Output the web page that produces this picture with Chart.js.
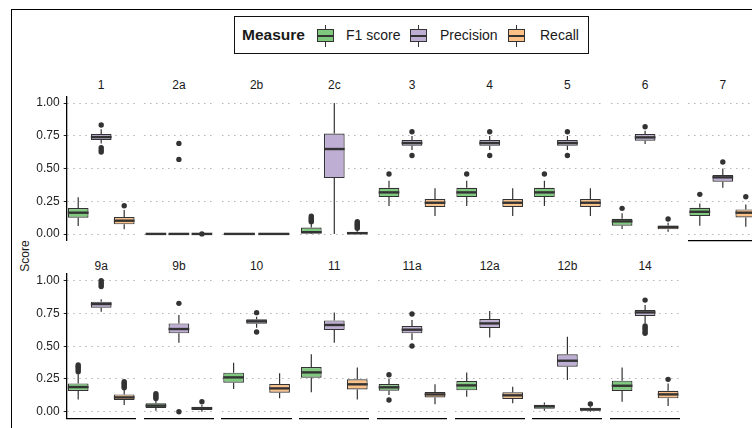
<!DOCTYPE html>
<html>
<head>
<meta charset="utf-8">
<script src="https://cdn.jsdelivr.net/npm/chart.js@4.4.1/dist/chart.umd.min.js"></script>
<style>
  html, body { margin: 0; padding: 0; background: #fff; }
  body { width: 752px; height: 428px; position: relative; overflow: hidden;
         font-family: "Liberation Sans", Arial, sans-serif; color: #1a1a1a; }
  .frame { position: absolute; left: 11px; top: 9px; width: 1200px; height: 1200px;
           border-left: 1.5px solid #000; border-top: 1.5px solid #000; }
  .legend { position: absolute; left: 234px; top: 16px; width: 355px; height: 38px;
            border: 1px solid #111; box-sizing: border-box; }
  .legend-title { position: absolute; left: 242px; top: 26px; font-weight: bold; font-size: 15.5px; line-height: 18px; }
  .legend-text { position: absolute; top: 27px; font-size: 14px; line-height: 17px; }
  .key { position: absolute; top: 25px; width: 17px; height: 22px; }
  .key .whisker { position: absolute; left: 8px; top: 0; width: 1.2px; height: 22px; background: #333; }
  .key .box { position: absolute; left: 0; top: 4px; width: 17px; height: 13px; box-sizing: border-box;
              border: 1.2px solid #333; }
  .key .median { position: absolute; left: 0; top: 10px; width: 17px; height: 2px; background: #333; }
  .strip { position: absolute; width: 69px; text-align: center; font-size: 12px; line-height: 14px; }
  .ylab { position: absolute; left: 25px; top: 256px; font-size: 12px; line-height: 14px;
          transform: translate(-50%, -50%) rotate(-90deg); white-space: nowrap; }
  canvas { position: absolute; }
</style>
</head>
<body>
<div class="frame"></div>
<div class="legend"></div>
<div class="ylab">Score</div>
<div id="host"></div>
<script>
// Facet panels, in reading order (9 per row)
const panels = ['1','2a','2b','2c','3','4','5','6','7','9a','9b','10','11','11a','12a','12b','14'];
const measures = ['F1 score', 'Precision', 'Recall'];
const measureColors = ['#7FC97F', '#BEAED4', '#FDC086'];

// Box statistics per panel: [lower whisker, Q1, median, Q3, upper whisker]
const f1Stats = [
  [0.061, 0.125, 0.163, 0.198, 0.280],
  [0.000, 0.000, 0.001, 0.004, 0.006],
  [0.000, 0.000, 0.001, 0.003, 0.005],
  [0.000, 0.005, 0.014, 0.050, 0.085],
  [0.214, 0.282, 0.318, 0.354, 0.407],
  [0.214, 0.282, 0.318, 0.354, 0.407],
  [0.214, 0.282, 0.318, 0.354, 0.407],
  [0.038, 0.064, 0.097, 0.117, 0.158],
  [0.064, 0.137, 0.170, 0.201, 0.234],
  [0.094, 0.158, 0.188, 0.216, 0.285],
  [0.008, 0.028, 0.046, 0.064, 0.085],
  [0.173, 0.221, 0.262, 0.298, 0.374],
  [0.148, 0.260, 0.300, 0.341, 0.438],
  [0.127, 0.160, 0.186, 0.211, 0.254],
  [0.115, 0.163, 0.201, 0.234, 0.300],
  [0.008, 0.023, 0.041, 0.053, 0.071],
  [0.076, 0.158, 0.198, 0.237, 0.338]
];
const precisionStats = [
  [0.692, 0.718, 0.740, 0.763, 0.800],
  [0.000, 0.000, 0.001, 0.003, 0.005],
  [0.000, 0.000, 0.001, 0.003, 0.005],
  [0.000, 0.427, 0.649, 0.768, 1.000],
  [0.641, 0.674, 0.695, 0.718, 0.748],
  [0.641, 0.674, 0.695, 0.718, 0.748],
  [0.641, 0.674, 0.695, 0.718, 0.748],
  [0.687, 0.712, 0.738, 0.763, 0.789],
  [0.354, 0.400, 0.433, 0.450, 0.501],
  [0.763, 0.794, 0.822, 0.840, 0.858],
  [0.527, 0.598, 0.631, 0.674, 0.738],
  [0.641, 0.672, 0.690, 0.705, 0.725],
  [0.527, 0.623, 0.662, 0.697, 0.758],
  [0.547, 0.598, 0.626, 0.654, 0.700],
  [0.567, 0.639, 0.674, 0.707, 0.768],
  [0.242, 0.344, 0.389, 0.438, 0.573],
  [0.674, 0.730, 0.758, 0.776, 0.814]
];
const recallStats = [
  [0.036, 0.074, 0.102, 0.130, 0.183],
  [0.000, 0.000, 0.001, 0.003, 0.005],
  null,
  [0.000, 0.000, 0.006, 0.018, 0.035],
  [0.137, 0.206, 0.239, 0.267, 0.349],
  [0.137, 0.206, 0.239, 0.267, 0.349],
  [0.137, 0.206, 0.239, 0.267, 0.349],
  [0.018, 0.036, 0.053, 0.066, 0.087],
  [0.056, 0.127, 0.163, 0.188, 0.226],
  [0.051, 0.089, 0.109, 0.132, 0.165],
  [0.000, 0.013, 0.025, 0.038, 0.051],
  [0.102, 0.145, 0.178, 0.211, 0.293],
  [0.094, 0.170, 0.209, 0.247, 0.338],
  [0.056, 0.109, 0.132, 0.150, 0.209],
  [0.064, 0.097, 0.125, 0.148, 0.191],
  [0.000, 0.008, 0.018, 0.031, 0.038],
  [0.043, 0.102, 0.132, 0.160, 0.216]
];

// Points beyond the whiskers
const f1Outliers = [
  [], [], [], [0.094, 0.105, 0.115, 0.125, 0.137],
  [0.458], [0.458], [0.458], [0.196], [0.303],
  [0.305, 0.320, 0.335, 0.345, 0.356], [0.100, 0.112, 0.125, 0.138], [], [],
  [0.282, 0.089], [], [], []
];
const precisionOutliers = [
  [0.832, 0.659, 0.641, 0.626], [0.692, 0.570], [], [],
  [0.781, 0.600], [0.781, 0.600], [0.781, 0.600], [0.819], [0.550],
  [0.955, 0.970, 0.985, 1.000], [0.827, 0.000], [0.756, 0.608], [],
  [0.746, 0.501], [], [], [0.852, 0.654, 0.640, 0.627, 0.610, 0.598]
];
const recallOutliers = [
  [0.216], [0.001], [], [0.045, 0.055, 0.065, 0.075, 0.085, 0.094],
  [], [], [], [0.115], [0.285],
  [0.183, 0.195, 0.207, 0.218, 0.229], [0.076], [], [],
  [], [], [0.059], [0.247]
];

const yTickValues = [0, 0.25, 0.5, 0.75, 1];
const yTickLabels = ['0.00', '0.25', '0.50', '0.75', '1.00'];

const allStats = [f1Stats, precisionStats, recallStats];
const allOutliers = [f1Outliers, precisionOutliers, recallOutliers];

// ---- legend ----
const legendItems = [
  { key: 317, text: 346 },
  { key: 410, text: 440 },
  { key: 508, text: 540 }
];
(function buildLegend() {
  const t = document.createElement('div');
  t.className = 'legend-title';
  t.textContent = 'Measure';
  document.body.appendChild(t);
  measures.forEach((m, j) => {
    const k = document.createElement('div');
    k.className = 'key';
    k.style.left = legendItems[j].key + 'px';
    k.innerHTML = '<div class="whisker"></div><div class="box" style="background:' +
      measureColors[j] + '"></div><div class="median"></div>';
    document.body.appendChild(k);
    const s = document.createElement('div');
    s.className = 'legend-text';
    s.style.left = legendItems[j].text + 'px';
    s.textContent = m;
    document.body.appendChild(s);
  });
})();

// ---- box-and-whisker overlay drawn from bar element geometry ----
const boxPlugin = {
  id: 'boxWhiskers',
  afterDatasetsDraw(chart, args, opts) {
    const { ctx } = chart;
    const y = chart.scales.y;
    const p = opts.panel;
    ctx.save();
    allStats.forEach((stats, j) => {
      const s = stats[p];
      if (!s) return;
      const el = chart.getDatasetMeta(j).data[0];
      if (!el) return;
      const { x, width } = el.getProps(['x', 'width'], true);
      ctx.strokeStyle = '#333';
      ctx.lineWidth = 1.2;
      ctx.beginPath();
      ctx.moveTo(x, y.getPixelForValue(s[4]));
      ctx.lineTo(x, y.getPixelForValue(s[3]));
      ctx.moveTo(x, y.getPixelForValue(s[1]));
      ctx.lineTo(x, y.getPixelForValue(s[0]));
      ctx.stroke();
      ctx.lineWidth = 2.4;
      ctx.beginPath();
      const ym = y.getPixelForValue(s[2]);
      ctx.moveTo(x - width / 2, ym);
      ctx.lineTo(x + width / 2, ym);
      ctx.stroke();
      ctx.fillStyle = '#333';
      allOutliers[j][p].forEach(v => {
        ctx.beginPath();
        ctx.arc(x, y.getPixelForValue(v), 2.7, 0, Math.PI * 2);
        ctx.fill();
      });
    });
    ctx.restore();
  }
};

Chart.defaults.font.family = '"Liberation Sans", Arial, sans-serif';
Chart.defaults.devicePixelRatio = 1;

// ---- facet grid geometry ----
const perRow = 9;
const firstLeft = 66.7, colStep = 77.7, panelW = 69;
const rowAreaTop = [96.5, 274.15], panelH = 144.1;
const canvasTop = [90, 268], canvasH = 155;
const stripCenter = [85, 266];
const host = document.getElementById('host');

panels.forEach((name, i) => {
  const row = Math.floor(i / perRow);
  const col = i % perRow;
  const pl = firstLeft + colStep * col;
  const showXAxis = row === 1 || (row === 0 && i + perRow >= panels.length);

  const strip = document.createElement('div');
  strip.className = 'strip';
  strip.style.left = pl + 'px';
  strip.style.top = (stripCenter[row] - 7) + 'px';
  strip.textContent = name;
  host.appendChild(strip);

  let cLeft, cW, padL, padR, yW;
  if (col === 0) {
    cLeft = 0; yW = pl; padL = 0;
    cW = Math.ceil(pl + panelW + 2);
    padR = cW - (pl + panelW);
  } else {
    cLeft = Math.floor(pl) - 3; yW = 0; padL = pl - cLeft;
    cW = Math.ceil(pl + panelW + 3) - cLeft;
    padR = cW - (pl + panelW - cLeft);
  }
  const padT = rowAreaTop[row] - canvasTop[row];
  const padB = canvasH - padT - panelH;

  const cv = document.createElement('canvas');
  cv.width = cW; cv.height = canvasH;
  cv.style.left = cLeft + 'px';
  cv.style.top = canvasTop[row] + 'px';
  cv.style.width = cW + 'px';
  cv.style.height = canvasH + 'px';
  host.appendChild(cv);

  new Chart(cv, {
    type: 'bar',
    data: {
      labels: [''],
      datasets: measures.map((m, j) => ({
        label: m,
        data: [allStats[j][i] ? [allStats[j][i][1], allStats[j][i][3]] : null],
        backgroundColor: measureColors[j],
        borderColor: '#333',
        borderWidth: 1.2,
        borderSkipped: false,
        barPercentage: 0.9,
        categoryPercentage: 1
      }))
    },
    options: {
      responsive: false,
      animation: false,
      events: [],
      skipNull: true,
      layout: { padding: { left: padL, right: padR, top: padT, bottom: padB } },
      plugins: {
        legend: { display: false },
        tooltip: { enabled: false },
        boxWhiskers: { panel: i }
      },
      scales: {
        x: {
          type: 'category',
          display: showXAxis,
          grid: { display: false, drawTicks: false },
          ticks: { display: false },
          border: { display: true, color: '#000', width: 1.3 },
          afterFit(s) { s.height = 0; s.paddingLeft = 0; s.paddingRight = 0; }
        },
        y: {
          type: 'linear',
          min: -0.05, max: 1.05,
          afterBuildTicks(s) { s.ticks = yTickValues.map(v => ({ value: v })); },
          afterFit(s) { s.width = yW; s.paddingTop = 0; s.paddingBottom = 0; },
          ticks: {
            display: col === 0,
            autoSkip: false,
            padding: 4,
            color: '#222',
            font: { size: 12 },
            callback: (v, idx) => yTickLabels[idx]
          },
          grid: {
            color: '#b5b5b5',
            lineWidth: 1,
            drawTicks: col === 0,
            tickLength: 3,
            tickColor: '#222',
            tickWidth: 1
          },
          border: { display: col === 0, color: '#000', width: 1.3, dash: [1.5, 4.5] }
        }
      }
    },
    plugins: [boxPlugin]
  });
});
</script>
</body>
</html>
